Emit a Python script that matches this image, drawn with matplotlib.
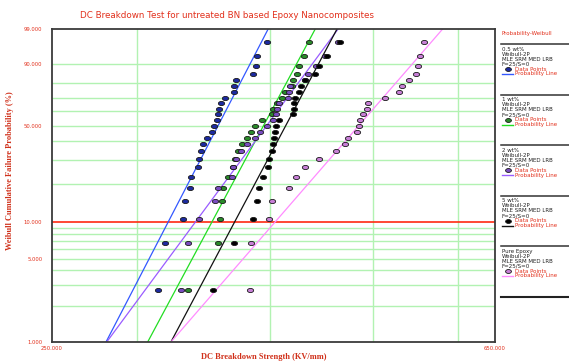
import numpy as np
import matplotlib
matplotlib.use('Agg')
import matplotlib.pyplot as plt
from matplotlib.markers import MarkerStyle
from matplotlib.transforms import Affine2D
from matplotlib.lines import Line2D

# ---------------- data ----------------
series_names = ['0.5 wt%', '1 wt%', '2 wt%', '5 wt%', 'Pure Epoxy']

# unreliability (median rank, %) of the 25 ordered points of each set
unreliability = [2.76, 6.69, 10.63, 14.57, 18.50, 22.44, 26.38, 30.31, 34.25,
                 38.19, 42.13, 46.06, 50.00, 53.94, 57.87, 61.81, 65.75, 69.69,
                 73.62, 77.56, 81.50, 85.43, 89.37, 93.31, 97.24]

strength_05wt = [314.5, 319.0, 331.5, 333.1, 336.7, 337.2, 342.8, 343.5, 344.8,
                 346.0, 349.1, 352.7, 354.6, 356.7, 357.9, 358.7, 359.8, 363.1,
                 370.2, 370.4, 371.8, 385.5, 388.2, 389.3, 397.3]
strength_1wt = [335.5, 357.9, 359.2, 361.0, 361.5, 365.5, 369.4, 371.0, 373.4,
                376.5, 380.5, 384.1, 387.4, 393.0, 401.6, 403.0, 406.0, 410.4,
                413.3, 419.3, 420.5, 423.9, 426.3, 430.9, 435.6]
strength_2wt = [330.0, 335.5, 343.5, 355.3, 357.9, 368.4, 369.7, 371.8, 375.9,
                380.5, 387.4, 391.6, 397.3, 402.5, 405.3, 406.2, 408.3, 416.3,
                417.2, 417.8, 431.5, 434.6, 441.9, 450.6, 463.4]
strength_5wt = [353.6, 370.2, 386.0, 388.8, 391.0, 394.4, 398.7, 399.5, 401.6,
                402.5, 403.6, 404.5, 405.3, 408.3, 420.8, 421.4, 421.7, 422.3,
                426.3, 427.5, 431.5, 441.0, 445.1, 452.2, 465.4]
strength_pure = [383.3, 383.8, 399.5, 401.6, 417.2, 423.3, 431.5, 445.1, 461.4,
                 470.7, 473.2, 482.5, 484.5, 485.9, 489.4, 493.6, 494.7, 513.2,
                 528.9, 531.6, 540.4, 548.3, 550.3, 553.1, 557.9]

# fitted probability lines: strength at 1 % and at 99 % unreliability
line_x_at_1 = [280.9, 307.3, 281.3, 323.1, 323.1]
line_x_at_99 = [398.5, 441.1, 463.4, 462.3, 580.6]
line_F = [1.0, 99.0]

y_tick_values = [1, 5, 10, 50, 90, 99]
x_tick_values = [250, 650]
y_grid_values = [2, 3, 4, 5, 6, 7, 8, 9, 20, 30, 40, 50, 60, 70, 80, 90]
x_grid_values = [300, 400, 500, 600]

# ---------------- style ----------------
line_colors = ['#3358ff', '#22dd22', '#9a5cff', '#111111', '#ff8cff']
marker_faces = ['#1c2aa0', '#2a8a2a', '#7a4cc0', '#000000', '#c77fd6']
red = '#e2301c'
grid_c = '#b2f2b2'

def fwd(F):
    F = np.clip(np.asarray(F, dtype=float), 1e-9, 100 - 1e-9)
    return np.log(-np.log(1 - F / 100.0))

def inv(z):
    return 100.0 * (1 - np.exp(-np.exp(np.asarray(z, dtype=float))))

W, H = 569, 364
fig = plt.figure(figsize=(W / 100, H / 100), dpi=100)
ax = fig.add_axes([52 / W, 1 - 342 / H, (495 - 52) / W, (342 - 29) / H])
ax.set_xscale('log')
ax.set_yscale('function', functions=(fwd, inv))
ax.set_xlim(250, 650)
ax.set_ylim(1, 99)

for v in y_grid_values:
    ax.axhline(v, color=grid_c, lw=1.0, zorder=0)
for v in x_grid_values:
    ax.axvline(v, color=grid_c, lw=1.0, zorder=0)
ax.axhline(10, color='#ff2a10', lw=1.2, zorder=1)

data = [strength_05wt, strength_1wt, strength_2wt, strength_5wt, strength_pure]
oval = MarkerStyle('o', transform=Affine2D().scale(1.5, 1.0))
for i in range(5):
    ax.plot([line_x_at_1[i], line_x_at_99[i]], line_F, color=line_colors[i],
            lw=0.9, zorder=2)
for i in range(5):
    ax.plot(data[i], unreliability, linestyle='none', marker=oval, ms=3.0,
            mfc=marker_faces[i], mec='#1a1a1a', mew=0.6, zorder=3)

ax.xaxis.set_minor_locator(matplotlib.ticker.NullLocator())
ax.yaxis.set_minor_locator(matplotlib.ticker.NullLocator())
ax.set_yticks(y_tick_values)
ax.set_yticklabels(['%.3f' % v for v in y_tick_values])
ax.set_xticks(x_tick_values)
ax.set_xticklabels(['%.3f' % v for v in x_tick_values])
ax.tick_params(axis='both', length=0, labelsize=3.8, labelcolor=red)
ax.tick_params(axis='y', pad=7)
ax.tick_params(axis='x', pad=3)
for s in ax.spines.values():
    s.set_color('#3a3a3a')
    s.set_linewidth(1.3)

fig.text(227 / W, 1 - 15 / H,
         'DC Breakdown Test for untreated BN based Epoxy Nanocomposites',
         ha='center', va='center', color=red, fontsize=6.3)
fig.text(10 / W, 1 - 171 / H, 'Weibull Cumulative Failure Probability (%)',
         rotation=90, ha='center', va='center', color='#d0301a',
         fontsize=6.0, family='Liberation Serif', weight='bold')
fig.text(264 / W, 1 - 357 / H, 'DC Breakdown Strength (KV/mm)',
         ha='center', va='center', color='#d0301a', fontsize=6.0,
         family='Liberation Serif', weight='bold')

# ---------------- legend panel ----------------
def fx(px):
    return px / W

def fy(py):
    return 1 - py / H

fig.text(fx(501), fy(33), 'Probability-Weibull', color=red, fontsize=4,
         va='center', ha='left')
seps = [44, 94.5, 145, 195.5, 246]
for y in seps:
    fig.add_artist(Line2D([fx(501), fx(569)], [fy(y), fy(y)], color='#333333',
                          lw=1.1))
fig.add_artist(Line2D([fx(501), fx(569)], [fy(296.5), fy(296.5)],
                      color='#222222', lw=1.5))
for k in range(5):
    b = seps[k]
    txts = [series_names[k], 'Weibull-2P', 'MLE SRM MED LRB', 'F=25/S=0']
    for j, t in enumerate(txts):
        fig.text(fx(502), fy(b + 5.3 + 5 * j), t, color='#222222',
                 fontsize=4, va='center', ha='left')
    fig.add_artist(Line2D([fx(508)], [fy(b + 25.3)], linestyle='none',
                          marker=oval, ms=2.8, mfc=marker_faces[k],
                          mec='#1a1a1a', mew=0.6))
    fig.text(fx(515), fy(b + 25.3), 'Data Points', color=red, fontsize=4,
             va='center', ha='left')
    fig.add_artist(Line2D([fx(502), fx(513)], [fy(b + 30), fy(b + 30)],
                          color=line_colors[k], lw=1.0))
    fig.text(fx(515), fy(b + 30), 'Probability Line', color=red, fontsize=4,
             va='center', ha='left')

fig.savefig('out.png', dpi=100)
